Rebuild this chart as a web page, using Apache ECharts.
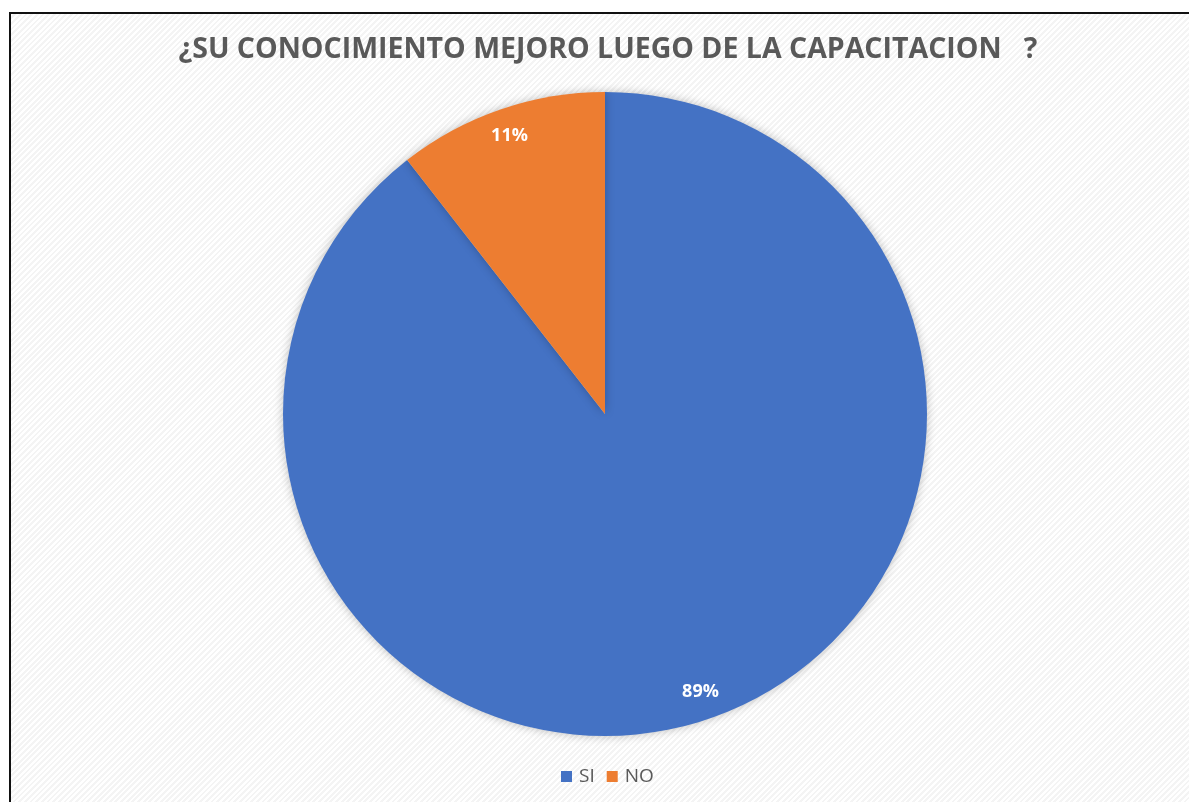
<!DOCTYPE html>
<html>
<head>
<meta charset="utf-8">
<title>Capacitacion</title>
<script src="https://cdn.jsdelivr.net/npm/echarts@6/dist/echarts.min.js"></script>
<style>
  html, body { margin: 0; padding: 0; background: #fff; overflow: hidden; }
  #frame {
    position: absolute; left: 9px; top: 12px; width: 1200px; height: 820px;
    border-left: 2px solid #111; border-top: 2px solid #111;
    background: repeating-linear-gradient(135deg, #ffffff 0 2px, #f4f4f4 2px 4px);
  }
  #chart { position: absolute; left: 0; top: 0; width: 1189px; height: 802px; }
</style>
</head>
<body>
<div id="frame"></div>
<div id="chart"></div>
<script>
const titleText = "¿SU CONOCIMIENTO MEJORO LUEGO DE LA CAPACITACION   ?";
const categories = ["SI", "NO"];
// shares (labels round to 89% / 11%)
const shares = [89.47, 10.53];
const sliceColors = ["#4472C4", "#ED7D31"];

const pieData = categories.map((name, i) => ({
  name: name,
  value: shares[i],
  itemStyle: { color: sliceColors[i] }
}));

const chart = echarts.init(document.getElementById("chart"));
chart.setOption({
  backgroundColor: "transparent",
  animation: false,
  title: {
    text: titleText,
    left: 603,
    textAlign: "center",
    top: 30,
    textStyle: {
      fontFamily: "Open Sans",
      fontWeight: "bold",
      fontSize: 28.5,
      color: "#595959"
    }
  },
  legend: {
    data: categories,
    bottom: 11,
    left: 556,
    icon: "rect",
    itemWidth: 11,
    itemHeight: 11,
    itemGap: 12,
    textStyle: { fontFamily: "Open Sans", fontSize: 19, color: "#595959", padding: [0, 0, 0, 2] }
  },
  series: [
    {
      type: "pie",
      center: [605, 414],
      radius: [0, 322],
      startAngle: 90,
      clockwise: true,
      data: pieData,
      label: { show: false },
      labelLine: { show: false },
      itemStyle: {
        shadowBlur: 10,
        shadowColor: "rgba(0,0,0,0.25)"
      },
      emphasis: { disabled: true }
    },
    {
      // label ring: places the percentages near the rim like the original
      type: "pie",
      center: [605, 414],
      radius: [260, 322],
      startAngle: 90,
      clockwise: true,
      silent: true,
      percentPrecision: 0,
      data: pieData.map(d => ({ name: d.name, value: d.value, itemStyle: { color: "transparent" } })),
      label: {
        show: true,
        position: "inside",
        formatter: "{d}%",
        fontFamily: "Open Sans",
        fontWeight: "bold",
        fontSize: 18,
        color: "#fff"
      },
      labelLine: { show: false },
      emphasis: { disabled: true }
    }
  ]
});
</script>
</body>
</html>
